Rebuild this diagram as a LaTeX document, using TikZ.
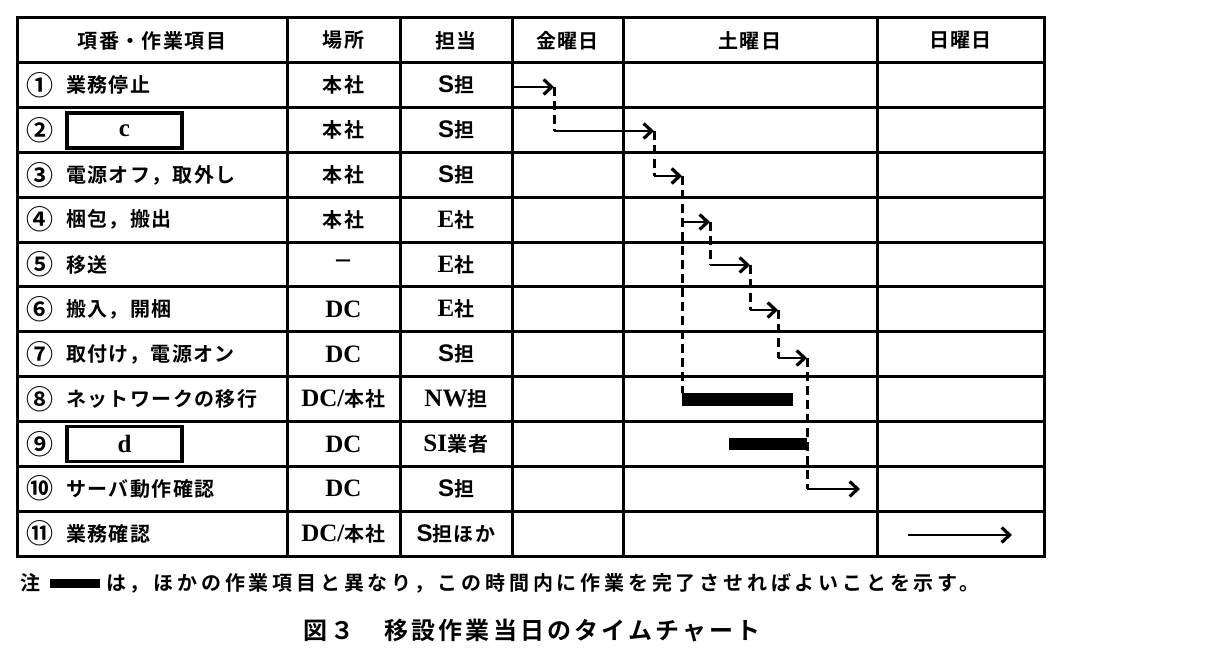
\documentclass[tikz,border=0pt]{standalone}
\usepackage{fontspec}
\setmainfont{Noto Sans CJK JP}[BoldFont={Noto Sans CJK JP Bold}]
\newfontfamily\lat{Liberation Serif}[Scale=1.25]
\newfontfamily\latsf{Liberation Sans}[Scale=1.2]
\usetikzlibrary{arrows.meta}
\tikzset{
    tableline/.style={draw=black, line width=3pt},
    cell/.style={inner sep=0pt, font=\fontsize{20}{24}\selectfont\bfseries\addfontfeatures{LetterSpace=7}},
    numcell/.style={inner sep=0pt, font=\fontsize{27}{30}\selectfont\bfseries},
    blank/.style={cell, draw=black, line width=3.2pt, minimum width=115pt, minimum height=35pt},
    flow/.style={draw=black, line width=2.6pt, -{Straight Barb[length=8pt, width=15pt, line width=3.2pt]}},
    link/.style={draw=black, line width=3pt, dash pattern=on 9pt off 5pt},
    donebar/.style={fill=black, inner sep=0pt},
    notetext/.style={inner sep=0pt, font=\fontsize{20}{24}\selectfont\bfseries\addfontfeatures{LetterSpace=19}},
    titletext/.style={inner sep=0pt, font=\fontsize{24}{28}\selectfont\bfseries\addfontfeatures{LetterSpace=13}}
}
\begin{document}
\begin{tikzpicture}[x=1pt, y=-1pt]
\useasboundingbox (0,0) rectangle (1218,668);

% Table frame
\draw[tableline] (17,18) rectangle (1044,556);
\foreach \k in {1,...,11} \draw[tableline] (17,{18+44.83*\k}) -- (1044,{18+44.83*\k});
\foreach \cx in {287,400,512,623,877} \draw[tableline] (\cx,18) -- (\cx,556);

% Header
\node[cell] (hdtask) at (152,40.5) {項番・作業項目};
\node[cell] (hdplace) at (343.5,40.5) {場所};
\node[cell] (hdwho) at (456,40.5) {担当};
\node[cell] (hdfri) at (567.5,40.5) {金曜日};
\node[cell] (hdsat) at (750,40.5) {土曜日};
\node[cell] (hdsun) at (960.5,40.5) {日曜日};

% Rows
\foreach \n/\task/\place/\who [count=\i] in {
    ①/業務停止/本社/{{\latsf S}担},
    ②//本社/{{\latsf S}担},
    ③/電源オフ，取外し/本社/{{\latsf S}担},
    ④/梱包，搬出/本社/{{\lat E}社},
    ⑤/移送/－/{{\lat E}社},
    ⑥/搬入，開梱/{\lat DC}/{{\lat E}社},
    ⑦/取付け，電源オン/{\lat DC}/{{\latsf S}担},
    ⑧/ネットワークの移行/{{\lat DC/}本社}/{{\lat NW}担},
    ⑨//{\lat DC}/{{\lat SI}業者},
    ⑩/サーバ動作確認/{\lat DC}/{{\latsf S}担},
    ⑪/業務確認/{{\lat DC/}本社}/{{\latsf S}担ほか}} {
  \node[numcell] (num\i) at (40,{18+44.83*(\i+0.5)}) {\n};
  \node[cell, anchor=west] (task\i) at (66,{18+44.83*(\i+0.5)}) {\task};
  \node[cell] (place\i) at (343.5,{18+44.83*(\i+0.5)}) {\place};
  \node[cell] (who\i) at (456,{18+44.83*(\i+0.5)}) {\who};
}
\node[blank] (boxc) at (124.5,130.5) {{\lat c}};
\node[blank] (boxd) at (124.5,443.7) {{\lat d}};

% Schedule points
\coordinate (s1) at (512,87);   \coordinate (e1) at (554,87);
\coordinate (s2) at (554,131);  \coordinate (e2) at (654,131);
\coordinate (s3) at (654,176);  \coordinate (e3) at (682,176);
\coordinate (s4) at (682,222);  \coordinate (e4) at (710,222);
\coordinate (s5) at (710,265);  \coordinate (e5) at (750,265);
\coordinate (s6) at (750,310);  \coordinate (e6) at (778,310);
\coordinate (s7) at (778,358);  \coordinate (e7) at (807,358);
\coordinate (s10) at (807,489); \coordinate (e10) at (860,489);
\coordinate (s11) at (908,535); \coordinate (e11) at (1012,535);
\node[donebar, minimum width=111pt, minimum height=13pt, anchor=north west] (bar8) at (682,393) {};
\node[donebar, minimum width=78pt, minimum height=12pt, anchor=north west] (bar9) at (729,438) {};

% Steps
\draw[flow] (s1) -- (e1);
\draw[flow] (s2) -- (e2);
\draw[flow] (s3) -- (e3);
\draw[flow] (s4) -- (e4);
\draw[flow] (s5) -- (e5);
\draw[flow] (s6) -- (e6);
\draw[flow] (s7) -- (e7);
\draw[flow] (s10) -- (e10);
\draw[flow] (s11) -- (e11);

% Waits
\draw[link] (e1) -- (s2);
\draw[link] (e2) -- (s3);
\draw[link] (e3) -- (bar8.north west);
\draw[link] (e3) -- (s4);
\draw[link] (e4) -- (s5);
\draw[link] (e5) -- (s6);
\draw[link] (e6) -- (s7);
\draw[link] (e7) -- (s10);

% Note and caption
\node[notetext, anchor=west] (notemark) at (20,583) {注};
\node[donebar, minimum width=50pt, minimum height=9pt, anchor=west] (notekey) at (50,583) {};
\node[notetext, anchor=west] (note) at (106,583) {は，ほかの作業項目と異なり，この時間内に作業を完了させればよいことを示す。};
\node[titletext, anchor=west] (caption) at (303,631) {図３　移設作業当日のタイムチャート};
\end{tikzpicture}
\end{document}
